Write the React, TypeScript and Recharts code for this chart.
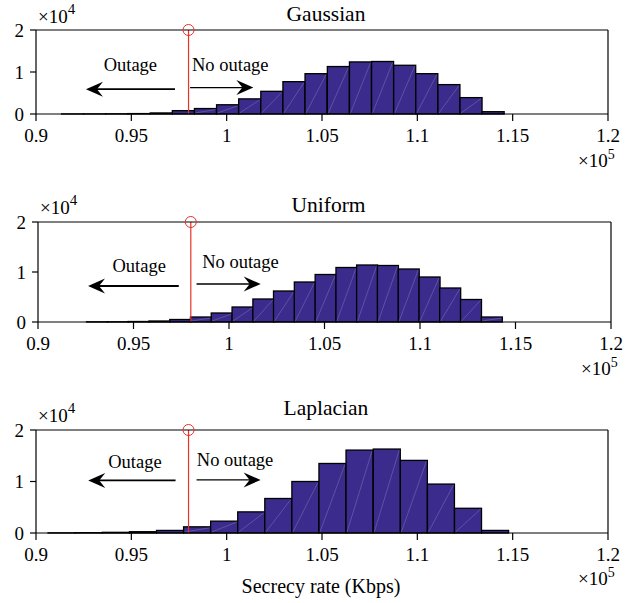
import React from 'react'
import { ComposedChart, Bar, XAxis, YAxis, ReferenceLine, ReferenceDot } from 'recharts'

// ── Data ──────────────────────────────────────────────────────────────────────

const xTicks = [0.9, 0.95, 1, 1.05, 1.1, 1.15, 1.2]
const yTicks = [0, 1, 2]
const threshold = 0.98

// bin centres (Kbps ×10^5) and counts (×10^4)
const gaussianRate = [0.9192, 0.9308, 0.9424, 0.954, 0.9657, 0.9773, 0.9889, 1.0005, 1.0121, 1.0237,
  1.0353, 1.0469, 1.0586, 1.0702, 1.0818, 1.0934, 1.105, 1.1166, 1.1282, 1.1398]
const gaussianCount = [0.002, 0.003, 0.005, 0.01, 0.025, 0.08, 0.13, 0.22, 0.36, 0.54,
  0.77, 0.96, 1.13, 1.24, 1.25, 1.16, 0.96, 0.7, 0.39, 0.055]

const uniformRate = [0.9308, 0.9417, 0.9526, 0.9635, 0.9744, 0.9852, 0.9961, 1.007, 1.0179, 1.0287,
  1.0396, 1.0505, 1.0614, 1.0722, 1.0831, 1.094, 1.1049, 1.1157, 1.1266, 1.1375]
const uniformCount = [0.004, 0.005, 0.01, 0.02, 0.05, 0.1, 0.18, 0.3, 0.46, 0.62,
  0.8, 0.95, 1.09, 1.14, 1.13, 1.06, 0.9, 0.68, 0.45, 0.1]

const laplacianRate = [0.9134, 0.9276, 0.9419, 0.9561, 0.9703, 0.9845, 0.9987, 1.0129, 1.0271, 1.0413,
  1.0555, 1.0697, 1.084, 1.0982, 1.1124, 1.1266, 1.1408]
const laplacianCount = [0.003, 0.006, 0.013, 0.025, 0.05, 0.12, 0.23, 0.41, 0.67, 1.0,
  1.35, 1.61, 1.63, 1.41, 0.95, 0.48, 0.05]

// ── Styles ────────────────────────────────────────────────────────────────────

const FONT = '"Liberation Serif", "Times New Roman", serif'
const BAR = '#3b2b8c'
const RED = '#e8312b'

interface Note { outX: number; outY: number; noX: number; noY: number
  leftFrom: number; leftTo: number; leftY: number; rightFrom: number; rightTo: number; rightY: number }

interface PanelDef {
  title: string; rate: number[]; count: number[]
  plotTop: number; plotHeight: number; left: number; right: number
  titleY: number; expY: number; exp5Y: number; note: Note
}

const panels: PanelDef[] = [
  {
    title: 'Gaussian', rate: gaussianRate, count: gaussianCount,
    plotTop: 30, plotHeight: 84, left: 36, right: 608, titleY: 21, expY: 23, exp5Y: 167,
    note: { outX: 0.9495, outY: 1.16, noX: 1.0019, noY: 1.16,
      leftFrom: 0.9729, leftTo: 0.9262, leftY: 0.59, rightFrom: 0.9808, rightTo: 1.014, rightY: 0.63 },
  },
  {
    title: 'Uniform', rate: uniformRate, count: uniformCount,
    plotTop: 222, plotHeight: 100, left: 38, right: 611, titleY: 212, expY: 214, exp5Y: 375,
    note: { outX: 0.953, outY: 1.12, noX: 1.006, noY: 1.2,
      leftFrom: 0.9737, leftTo: 0.9262, leftY: 0.72, rightFrom: 0.983, rightTo: 1.0166, rightY: 0.76 },
  },
  {
    title: 'Laplacian', rate: laplacianRate, count: laplacianCount,
    plotTop: 430, plotHeight: 103, left: 36, right: 608, titleY: 415, expY: 422, exp5Y: 585,
    note: { outX: 0.9519, outY: 1.38, noX: 1.0044, noY: 1.42,
      leftFrom: 0.9732, leftTo: 0.9274, leftY: 1.02, rightFrom: 0.9842, rightTo: 1.0178, rightY: 1.03 },
  },
]

// ── Shapes ────────────────────────────────────────────────────────────────────

function HistBar(props: any) {
  const { x, y, width, height } = props
  if (width == null || height == null) return null
  return (
    <g>
      <rect x={x} y={y} width={width} height={height} fill={BAR} stroke="#000" strokeWidth={1.3} />
      {height > 4 && (
        <line x1={x + 1} y1={y + height - 1} x2={x + width - 1} y2={y + 1}
          stroke="#fff" strokeOpacity={0.3} strokeWidth={0.6} />
      )}
    </g>
  )
}

const arrowHead = (dir: 1 | -1) => (p: any) => {
  const { cx, cy } = p
  const d = dir
  const pts = [
    [cx, cy], [cx - d * 17, cy - 7.5], [cx - d * 11, cy], [cx - d * 17, cy + 7.5],
  ].map((q) => q.join(',')).join(' ')
  return <polygon points={pts} fill="#000" />
}

const label = (text: string) => (p: any) => (
  <text x={p.cx} y={p.cy} textAnchor="middle" dominantBaseline="central"
    style={{ fontFamily: FONT, fontSize: 18.5, fill: '#000' }}>{text}</text>
)

const marker = (p: any) => (
  <ellipse cx={p.cx} cy={p.cy} rx={5.5} ry={5.5} fill="none" stroke={RED} strokeWidth={1} />
)

// ── Panel ─────────────────────────────────────────────────────────────────────

function Panel({ def }: { def: PanelDef }) {
  const data = def.rate.map((x, i) => ({ x, count: def.count[i] }))
  const n = def.note
  const tick = { fill: '#000', fontSize: 19, fontFamily: FONT }
  return (
    <div style={{ position: 'absolute', left: 0, top: def.plotTop - 30 }}>
      <ComposedChart width={635} height={30 + def.plotHeight + 40} data={data}
        margin={{ top: 30, right: 635 - def.right, left: def.left - 36, bottom: 0 }}
        barCategoryGap={0} barGap={0}>
        <XAxis dataKey="x" type="number" domain={[0.9, 1.2]} ticks={xTicks} interval={0}
          allowDataOverflow height={40} tickSize={7} tickMargin={8}
          axisLine={{ stroke: '#000', strokeWidth: 1.2 }} tickLine={{ stroke: '#000', strokeWidth: 1.2 }} tick={tick} />
        <YAxis type="number" domain={[0, 2]} ticks={yTicks} interval={0} width={36} tickSize={6} tickMargin={6}
          axisLine={{ stroke: '#000', strokeWidth: 1.2 }} tickLine={{ stroke: '#000', strokeWidth: 1.2 }} tick={tick} />
        <ReferenceLine x={threshold} stroke={RED} strokeWidth={1.2} />
        <Bar dataKey="count" isAnimationActive={false} shape={HistBar} />
        <ReferenceLine y={2} stroke="#000" strokeWidth={1.2} />
        <ReferenceLine x={1.2} stroke="#000" strokeWidth={1.2} />
        <ReferenceDot x={threshold} y={2} shape={marker} />
        <ReferenceLine segment={[{ x: n.leftFrom, y: n.leftY }, { x: n.leftTo + 0.004, y: n.leftY }]}
          stroke="#000" strokeWidth={1.8} />
        <ReferenceDot x={n.leftTo} y={n.leftY} shape={arrowHead(-1)} />
        <ReferenceLine segment={[{ x: n.rightFrom, y: n.rightY }, { x: n.rightTo - 0.004, y: n.rightY }]}
          stroke="#000" strokeWidth={1.3} />
        <ReferenceDot x={n.rightTo} y={n.rightY} shape={arrowHead(1)} />
        <ReferenceDot x={n.outX} y={n.outY} shape={label('Outage')} />
        <ReferenceDot x={n.noX} y={n.noY} shape={label('No outage')} />
      </ComposedChart>
    </div>
  )
}

export default function App() {
  return (
    <div style={{ position: 'absolute', left: 0, top: 0, width: 635, height: 603, background: '#fff', fontFamily: FONT }}>
      {panels.map((p) => <Panel key={p.title} def={p} />)}
      <svg width={635} height={603} style={{ position: 'absolute', left: 0, top: 0, pointerEvents: 'none' }}
        fontFamily={FONT} fill="#000">
        {panels.map((p) => (
          <g key={p.title}>
            <text x={(p.left + p.right) / 2 + 4} y={p.titleY} textAnchor="middle" fontSize={21.5}>{p.title}</text>
            <text x={p.left + 2} y={p.expY} fontSize={19}>×10<tspan dy={-9} fontSize={15}>4</tspan></text>
            <text x={p.right - 30} y={p.exp5Y} fontSize={19}>×10<tspan dy={-8} fontSize={14}>5</tspan></text>
          </g>
        ))}
        <text x={321} y={593} textAnchor="middle" fontSize={20}>Secrecy rate (Kbps)</text>
      </svg>
    </div>
  )
}
